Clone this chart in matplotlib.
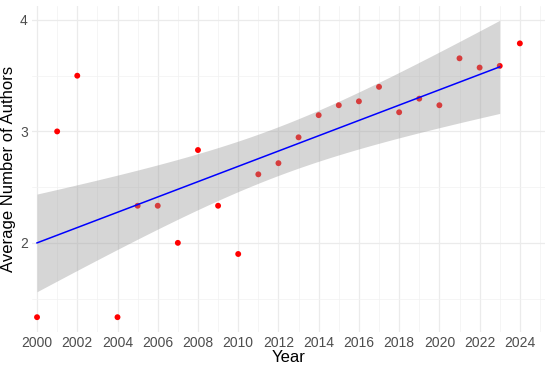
import numpy as np
import matplotlib
matplotlib.use("Agg")
import matplotlib.pyplot as plt
from matplotlib.ticker import MultipleLocator

years = [2000, 2001, 2002, 2004, 2005, 2006, 2007, 2008, 2009, 2010, 2011, 2012,
         2013, 2014, 2015, 2016, 2017, 2018, 2019, 2020, 2021, 2022, 2023, 2024]
avg_authors = [1.333, 3.0, 3.5, 1.333, 2.333, 2.333, 2.0, 2.833, 2.333, 1.9, 2.615, 2.715,
               2.947, 3.146, 3.235, 3.27, 3.40, 3.172, 3.294, 3.235, 3.656, 3.573, 3.588, 3.79]
fit_last_year = 2023
x_ticks = list(range(2000, 2025, 2))
y_ticks = [2, 3, 4]

plt.rcParams['font.family'] = ['Liberation Sans', 'DejaVu Sans']

x = np.array(years, dtype=float)
y = np.array(avg_authors)
m = x <= fit_last_year
xf, yf = x[m], y[m]
n = len(xf)
b, a = np.polyfit(xf, yf, 1)
resid = yf - (a + b * xf)
s = np.sqrt(np.sum(resid ** 2) / (n - 2))
xm = xf.mean()
sxx = np.sum((xf - xm) ** 2)
t975 = 2.0796  # t quantile, df = 21
xs = np.linspace(xf.min(), xf.max(), 200)
ys = a + b * xs
se = s * np.sqrt(1 / n + (xs - xm) ** 2 / sxx)

fig = plt.figure(figsize=(5.5, 3.67), dpi=100)
ax = fig.add_axes([32 / 550, 1 - 332 / 367, (545 - 32) / 550, (332 - 5.5) / 367])

ax.scatter(x, y, s=18, color='#FF0000', edgecolors='none', zorder=3)
ax.fill_between(xs, ys - t975 * se, ys + t975 * se, color='#999999', alpha=0.4,
                linewidth=0, zorder=4)
ax.plot(xs, ys, color='#0000FF', linewidth=1.1, zorder=5)

ax.set_xlim(1999.75, 2025.25)
ax.set_ylim(1.2, 4.13)
ax.set_xticks(x_ticks)
ax.set_yticks(y_ticks)
ax.xaxis.set_minor_locator(MultipleLocator(1))
ax.yaxis.set_minor_locator(MultipleLocator(0.5))
ax.grid(True, which='major', color='#EBEBEB', linewidth=0.9)
ax.grid(True, which='minor', color='#F2F2F2', linewidth=0.5)
ax.set_axisbelow(True)
for sp in ax.spines.values():
    sp.set_visible(False)
ax.tick_params(which='both', length=0, labelsize=10, colors='#4D4D4D', pad=3)
ax.set_xlabel('Year', fontsize=12, color='black', labelpad=0)
ax.set_ylabel('Average Number of Authors', fontsize=12, color='black', labelpad=3)

fig.savefig('out.png', dpi=100, facecolor='white')
